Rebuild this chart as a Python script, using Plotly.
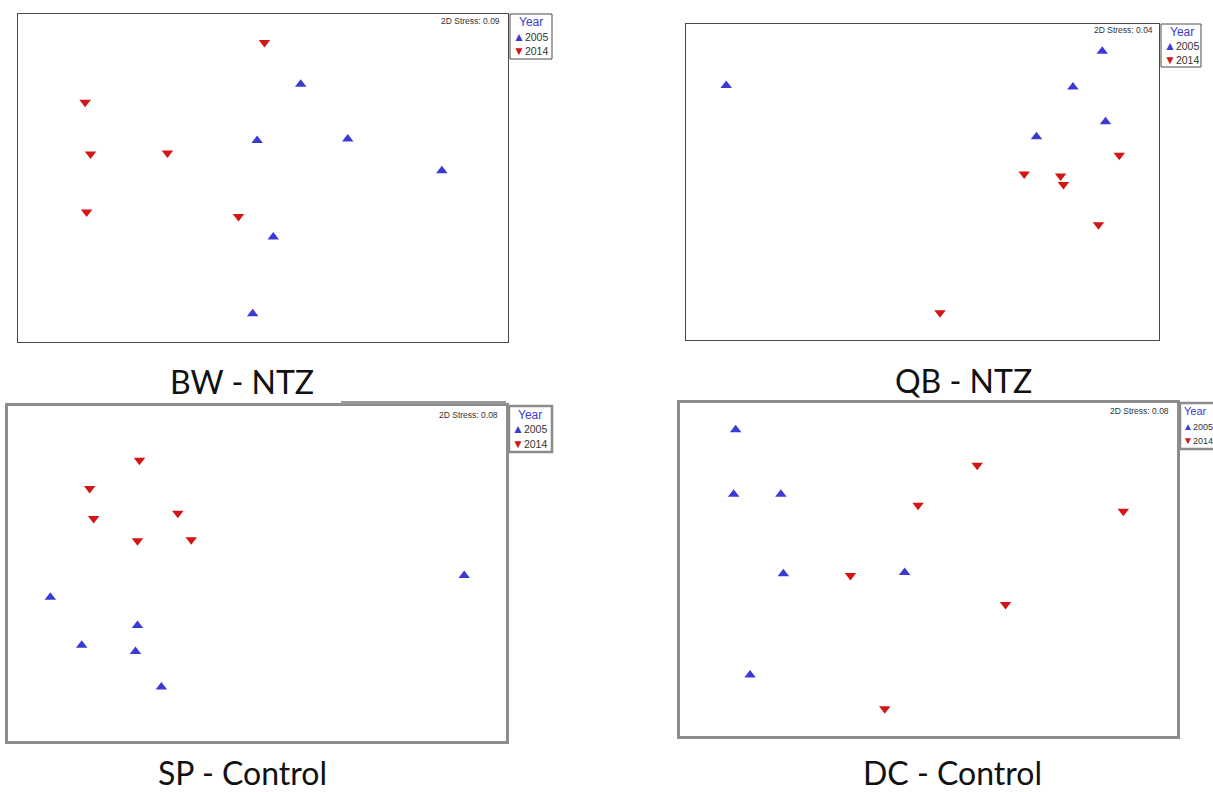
import plotly.graph_objects as go

W, H = 1213, 792

# ---------------- data (NMDS coordinates) ----------------
panel_titles = ["BW - NTZ", "QB - NTZ", "SP - Control", "DC - Control"]
stress_values = ["0.09", "0.04", "0.08", "0.08"]
years = ["2005", "2014"]

bw_2005_x = [0.577, 0.488, 0.673, 0.865, 0.521, 0.479]
bw_2005_y = [0.786, 0.614, 0.619, 0.522, 0.320, 0.086]
bw_2014_x = [0.503, 0.137, 0.148, 0.305, 0.140, 0.450]
bw_2014_y = [0.913, 0.731, 0.573, 0.576, 0.396, 0.383]

qb_2005_x = [0.880, 0.085, 0.818, 0.887, 0.741]
qb_2005_y = [0.914, 0.805, 0.801, 0.691, 0.643]
qb_2014_x = [0.916, 0.715, 0.792, 0.798, 0.872, 0.537]
qb_2014_y = [0.585, 0.525, 0.519, 0.492, 0.365, 0.086]

sp_2005_x = [0.916, 0.085, 0.260, 0.148, 0.256, 0.308]
sp_2005_y = [0.494, 0.429, 0.345, 0.286, 0.267, 0.161]
sp_2014_x = [0.264, 0.164, 0.172, 0.341, 0.260, 0.368]
sp_2014_y = [0.838, 0.754, 0.664, 0.680, 0.598, 0.601]

dc_2005_x = [0.112, 0.108, 0.203, 0.208, 0.452, 0.141]
dc_2005_y = [0.920, 0.726, 0.726, 0.487, 0.491, 0.183]
dc_2014_x = [0.598, 0.479, 0.892, 0.343, 0.655, 0.412]
dc_2014_y = [0.813, 0.693, 0.675, 0.482, 0.395, 0.082]

series = [
    (bw_2005_x, bw_2005_y, bw_2014_x, bw_2014_y),
    (qb_2005_x, qb_2005_y, qb_2014_x, qb_2014_y),
    (sp_2005_x, sp_2005_y, sp_2014_x, sp_2014_y),
    (dc_2005_x, dc_2005_y, dc_2014_x, dc_2014_y),
]

# ---------------- layout (pixel boxes) ----------------
BLUE = "#3b3bd4"
RED = "#d41515"

# plot frames: left, top, right, bottom in pixels
boxes = [(18, 14, 508, 342), (686, 24, 1159, 340), (8, 406, 506, 741), (680, 403, 1177, 736)]
frame_style = [("#4a4a4a", 1), ("#4a4a4a", 1), ("#8c8c8c", 2.5), ("#8c8c8c", 2.5)]
legend_boxes = [(510, 14, 552, 59), (1161, 24, 1201, 67), (509, 406, 552, 452), (1180, 403, 1225, 449)]
legend_rows = [(22, 37, 51), (32, 46, 60), (415, 429, 444), (411, 426, 441)]
legend_font = [(12, 10.5, 12), (12, 10.5, 12), (12, 10.5, 12), (11, 9, 10)]
stress_pos = [(502, 21), (1155, 30), (500, 415), (1171, 411)]
title_pos = [(242, 381), (963, 380), (242, 772), (952, 772)]


def px(x):
    return x / W


def py(y):
    return 1 - y / H


fig = go.Figure()
shapes = []
annotations = []

for i, (bx, st, leg, rows, lf, sp, tp, title, sv, data) in enumerate(
        zip(boxes, frame_style, legend_boxes, legend_rows, legend_font, stress_pos, title_pos,
            panel_titles, stress_values, series)):
    n = "" if i == 0 else str(i + 1)
    xa, ya = "x" + n, "y" + n
    x05, y05, x14, y14 = data
    fig.add_trace(go.Scatter(x=x05, y=y05, mode="markers", xaxis=xa, yaxis=ya,
                             marker=dict(symbol="triangle-up", size=10, color=BLUE),
                             showlegend=False, hoverinfo="x+y"))
    fig.add_trace(go.Scatter(x=x14, y=y14, mode="markers", xaxis=xa, yaxis=ya,
                             marker=dict(symbol="triangle-down", size=10, color=RED),
                             showlegend=False, hoverinfo="x+y"))
    l, t, r, b = bx
    col, lw = st
    axcommon = dict(range=[0, 1], showgrid=False, zeroline=False, showticklabels=False,
                    ticks="", showline=True, mirror=True, linecolor=col, linewidth=lw,
                    fixedrange=True)
    fig.update_layout(**{
        "xaxis" + n: dict(domain=[px(l), px(r)], anchor=ya, **axcommon),
        "yaxis" + n: dict(domain=[py(b), py(t)], anchor=xa, **axcommon),
    })

    # legend box
    ll, lt, lr, lb = leg
    shapes.append(dict(type="rect", xref="paper", yref="paper",
                       x0=px(ll), x1=px(lr), y0=py(lb), y1=py(lt),
                       line=dict(color=col, width=lw), fillcolor="white"))
    annotations.append(dict(xref="paper", yref="paper", x=px(ll + 2), y=py(rows[0]),
                            text="Year", showarrow=False, xanchor="left", yanchor="middle",
                            xshift=5 if i < 3 else 0,
                            font=dict(family="Liberation Sans, Arial", size=lf[0], color=BLUE)))
    for yr, ry, glyph, gc in zip(years, rows[1:], ["▲", "▼"], [BLUE, RED]):
        annotations.append(dict(xref="paper", yref="paper", x=px(ll + 1), y=py(ry),
                                text=f'<span style="color:{gc};font-size:{lf[2]}px">{glyph}</span>{yr}',
                                showarrow=False, xanchor="left", yanchor="middle",
                                font=dict(family="Liberation Sans, Arial", size=lf[1], color="#333333")))
    # stress label
    annotations.append(dict(xref="paper", yref="paper", x=px(sp[0]), y=py(sp[1]),
                            text=f"2D Stress: {sv}", showarrow=False,
                            xanchor="right", yanchor="middle",
                            font=dict(family="Liberation Sans, Arial", size=8.5, color="#333333")))
    # panel title
    annotations.append(dict(xref="paper", yref="paper", x=px(tp[0]), y=py(tp[1]),
                            text=title, showarrow=False, xanchor="center", yanchor="middle",
                            font=dict(family="Lato, Open Sans", size=32, color="#111111")))

# extra grey bar on top of the SP panel frame
shapes.append(dict(type="line", xref="paper", yref="paper",
                   x0=px(341), x1=px(506), y0=py(402.5), y1=py(402.5),
                   line=dict(color="#9a9a9a", width=3)))

fig.update_layout(width=W, height=H, margin=dict(l=0, r=0, t=0, b=0),
                  paper_bgcolor="white", plot_bgcolor="white",
                  shapes=shapes, annotations=annotations, showlegend=False)

fig.write_html("out.html", config={"displayModeBar": False},
               post_script="document.body.style.margin='0';document.body.style.overflow='hidden';")
